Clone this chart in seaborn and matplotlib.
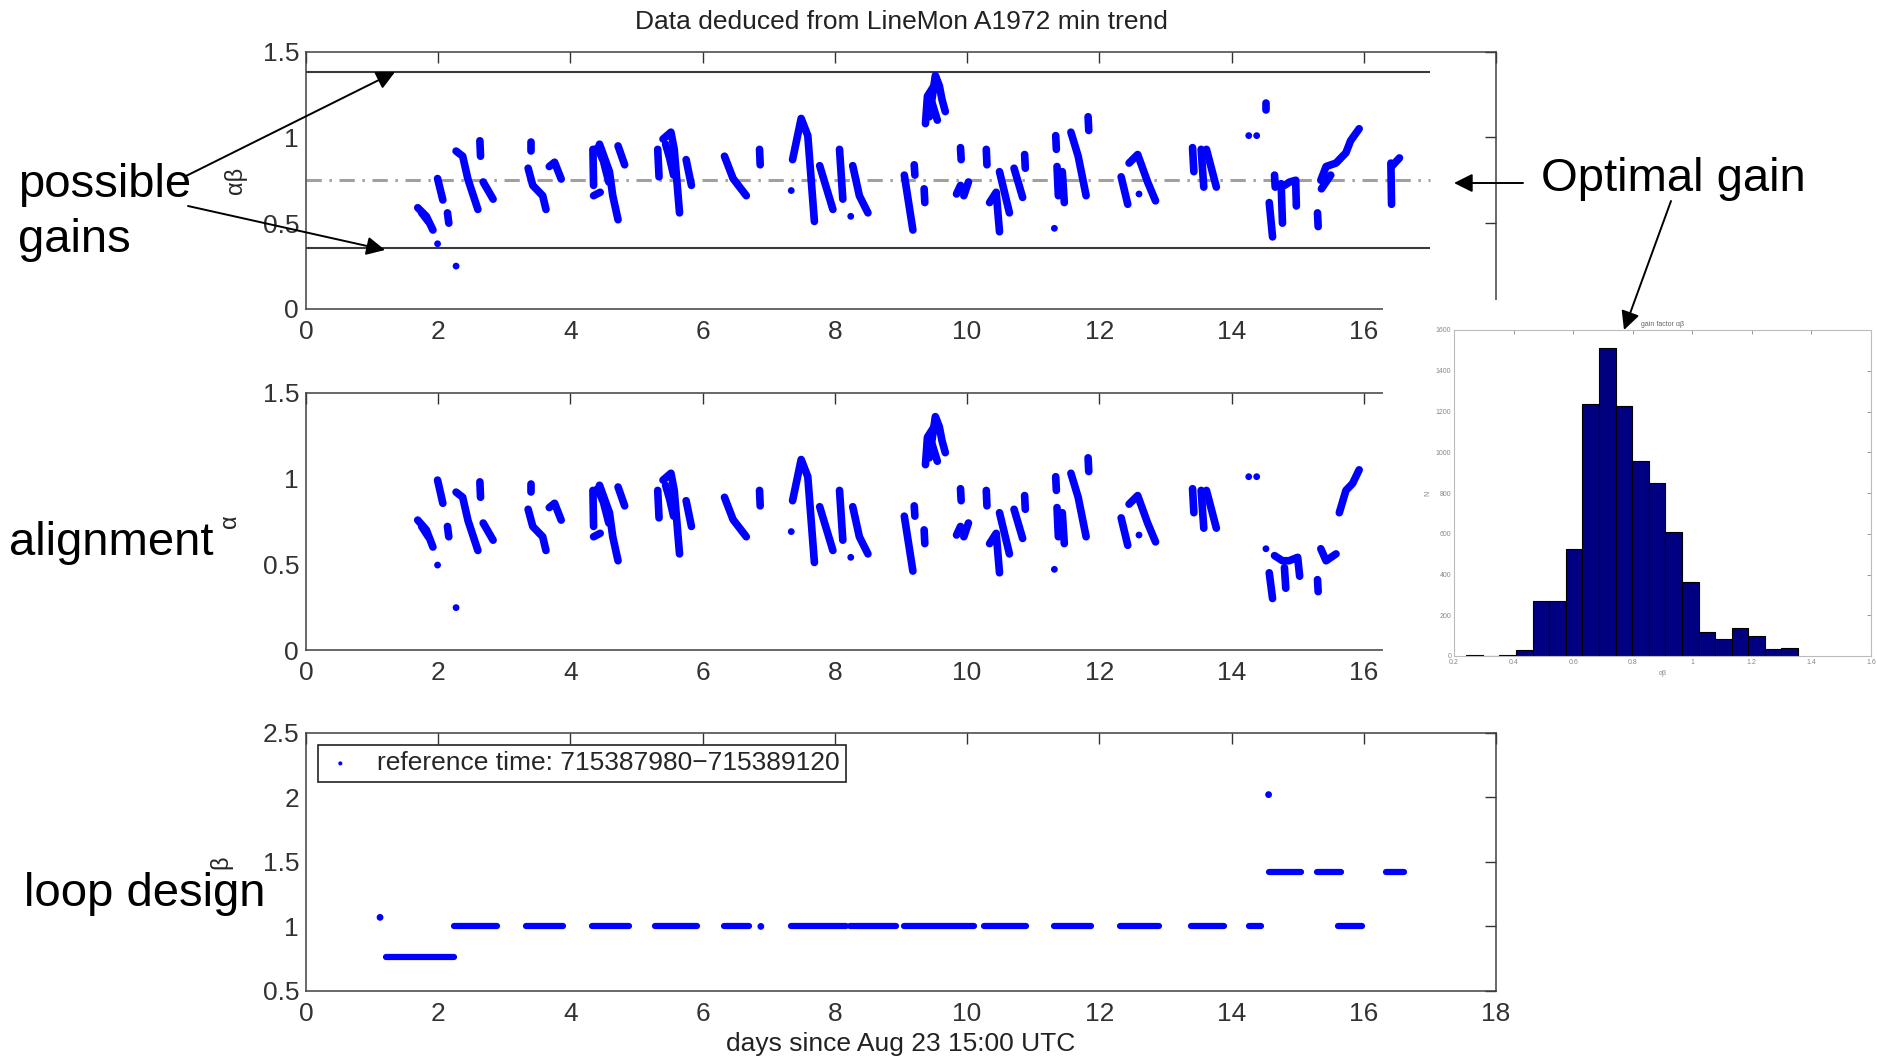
import pandas as pd
import matplotlib
matplotlib.use('Agg')
import matplotlib.pyplot as plt
import seaborn as sns
from matplotlib.ticker import FuncFormatter

sns.set_style('white')
plt.rcParams['font.family'] = ['Liberation Sans', 'DejaVu Sans']

# ---- data ----
# streaks of points (days, value) that are the same in the alpha and alpha*beta panels
shared_streaks = [
    ([2.27, 2.37, 2.45, 2.60], [0.92, 0.89, 0.755, 0.58]),
    ([2.63, 2.64], [0.98, 0.89]),
    ([2.68, 2.83], [0.74, 0.64]),
    ([3.41, 3.41], [0.97, 0.92]),
    ([3.36, 3.43, 3.58, 3.63], [0.82, 0.72, 0.66, 0.58]),
    ([3.68, 3.76, 3.86], [0.83, 0.855, 0.757]),
    ([4.34, 4.35], [0.93, 0.72]),
    ([4.44, 4.59, 4.64, 4.72], [0.96, 0.80, 0.66, 0.52]),
    ([4.41, 4.50, 4.58], [0.94, 0.86, 0.74]),
    ([4.72, 4.82], [0.95, 0.84]),
    ([4.35, 4.45], [0.66, 0.68]),
    ([5.32, 5.34], [0.93, 0.77]),
    ([5.40, 5.52, 5.57, 5.65], [0.99, 1.03, 0.93, 0.56]),
    ([5.44, 5.50, 5.56], [0.96, 0.88, 0.78]),
    ([5.75, 5.83], [0.87, 0.72]),
    ([6.33, 6.46, 6.66], [0.89, 0.76, 0.66]),
    ([6.86, 6.87], [0.93, 0.84]),
    ([7.36, 7.49, 7.59, 7.69], [0.87, 1.11, 1.01, 0.51]),
    ([7.77, 7.97], [0.835, 0.58]),
    ([8.07, 8.12], [0.93, 0.64]),
    ([8.27, 8.37, 8.50], [0.835, 0.66, 0.56]),
    ([9.05, 9.18], [0.78, 0.46]),
    ([9.20, 9.21], [0.84, 0.78]),
    ([9.35, 9.36], [0.70, 0.62]),
    ([9.37, 9.40, 9.50], [1.08, 1.24, 1.30]),
    ([9.43, 9.52, 9.58, 9.62, 9.67], [1.12, 1.36, 1.30, 1.22, 1.15]),
    ([9.47, 9.55], [1.20, 1.10]),
    ([9.90, 9.91], [0.94, 0.87]),
    ([9.84, 9.90], [0.67, 0.72]),
    ([9.95, 10.02], [0.66, 0.74]),
    ([10.29, 10.30], [0.93, 0.84]),
    ([10.34, 10.44, 10.49], [0.62, 0.68, 0.45]),
    ([10.49, 10.64], [0.80, 0.56]),
    ([10.71, 10.84], [0.82, 0.65]),
    ([10.87, 10.88], [0.90, 0.82]),
    ([11.34, 11.35], [1.01, 0.93]),
    ([11.36, 11.38], [0.83, 0.66]),
    ([11.44, 11.47], [0.80, 0.62]),
    ([11.57, 11.68, 11.80], [1.03, 0.89, 0.66]),
    ([11.83, 11.84], [1.12, 1.04]),
    ([12.33, 12.43], [0.77, 0.61]),
    ([12.45, 12.58, 12.73, 12.85], [0.85, 0.90, 0.74, 0.63]),
    ([13.41, 13.43], [0.94, 0.80]),
    ([13.54, 13.58], [0.93, 0.71]),
    ([13.62, 13.77], [0.93, 0.71]),
]
shared_dot_days = [7.34, 8.24, 11.32, 12.60, 14.26, 14.38]
shared_dot_vals = [0.69, 0.54, 0.47, 0.67, 1.01, 1.01]

# alpha*beta only
ab_streaks = [
    ([1.69, 1.82, 1.92], [0.59, 0.54, 0.46]),
    ([1.75, 1.85], [0.56, 0.51]),
    ([1.99, 2.07], [0.76, 0.635]),
    ([2.14, 2.16], [0.56, 0.50]),
    ([14.52, 14.52], [1.16, 1.20]),
    ([14.65, 14.66], [0.78, 0.71]),
    ([14.57, 14.62], [0.62, 0.42]),
    ([14.75, 14.77], [0.73, 0.50]),
    ([14.80, 14.88, 14.97, 14.98], [0.72, 0.74, 0.75, 0.60]),
    ([15.30, 15.31], [0.56, 0.48]),
    ([15.35, 15.43, 15.58, 15.73, 15.80, 15.93], [0.75, 0.83, 0.85, 0.91, 0.98, 1.05]),
    ([15.36, 15.50], [0.70, 0.78]),
    ([16.41, 16.42], [0.85, 0.61]),
    ([16.42, 16.54], [0.83, 0.88]),
]
ab_dot_days = [1.99, 2.27]
ab_dot_vals = [0.38, 0.25]

# alpha only
a_streaks = [
    ([1.69, 1.82, 1.92], [0.757, 0.70, 0.60]),
    ([1.75, 1.85], [0.72, 0.66]),
    ([1.99, 2.07], [0.99, 0.855]),
    ([2.14, 2.16], [0.72, 0.66]),
    ([14.57, 14.62], [0.45, 0.30]),
    ([14.65, 14.77, 14.87, 15.00, 15.03], [0.55, 0.52, 0.52, 0.54, 0.43]),
    ([14.80, 14.82], [0.48, 0.36]),
    ([15.30, 15.31], [0.41, 0.34]),
    ([15.35, 15.43, 15.58], [0.59, 0.52, 0.56]),
    ([15.63, 15.73, 15.83, 15.93], [0.80, 0.93, 0.97, 1.05]),
]
a_dot_days = [1.99, 2.27, 14.52]
a_dot_vals = [0.495, 0.247, 0.59]

# beta (loop design) runs: start day, end day, level
beta_start = [1.21, 2.24, 3.33, 4.32, 5.28, 6.33, 7.33, 8.23, 9.05, 10.26, 11.31,
              12.31, 13.39, 14.26, 15.61, 14.56, 15.29, 16.34]
beta_end = [2.24, 2.89, 3.89, 4.88, 5.91, 6.70, 8.17, 8.92, 10.10, 10.89, 11.88,
            12.90, 13.88, 14.44, 15.97, 15.05, 15.65, 16.61]
beta_level = [0.76, 1, 1, 1, 1, 1, 1, 1, 1, 1, 1, 1, 1, 1, 1, 1.42, 1.42, 1.42]
beta_dot_days = [1.12, 6.88, 14.56]
beta_dot_vals = [1.07, 1.0, 2.02]

gain_bounds = [1.378, 0.354]
optimal_gain = 0.751

# histogram of alpha*beta (inset)
hist_edges = [0.241, 0.297, 0.352, 0.408, 0.464, 0.520, 0.575, 0.631, 0.687, 0.743, 0.798,
              0.854, 0.910, 0.965, 1.021, 1.077, 1.132, 1.188, 1.244, 1.299, 1.355]
hist_counts = [4, 2, 4, 30, 270, 270, 523, 1236, 1511, 1225, 957, 848, 610, 361, 118,
               85, 139, 97, 33, 39]

BLUE = '#0000ff'
W, H = 1877, 1059


def px_rect(l, t, r, b):
    return [l / W, 1 - b / H, (r - l) / W, (b - t) / H]


def streak_frame(streaks):
    rows = []
    for i, (xs, ys) in enumerate(streaks):
        for x, y in zip(xs, ys):
            rows.append((i, x, y))
    return pd.DataFrame(rows, columns=['streak', 'day', 'val'])


def draw_streaks(ax, streaks, dot_x, dot_y):
    df = streak_frame(streaks)
    sns.lineplot(data=df, x='day', y='val', units='streak', estimator=None, sort=False,
                 color=BLUE, lw=5.5, solid_capstyle='round', solid_joinstyle='round',
                 legend=False, ax=ax)
    sns.scatterplot(x=dot_x, y=dot_y, color=BLUE, s=24, edgecolor='none', ax=ax)


def style_axes(ax, ylim, yticks):
    ax.set_xlim(0, 18)
    ax.set_ylim(*ylim)
    ax.set_xticks(range(0, 19, 2))
    ax.set_yticks(yticks)
    ax.yaxis.set_major_formatter(FuncFormatter(lambda v, p: '%g' % v))
    ax.tick_params(axis='both', direction='in', top=True, right=True, length=8,
                   width=1, colors='#333333', labelsize=19)
    ax.tick_params(axis='x', pad=8)
    ax.tick_params(axis='y', pad=5)
    for s in ax.spines.values():
        s.set_color('#404040')
        s.set_linewidth(1.1)
    ax.set_xlabel('')


fig = plt.figure(figsize=(W / 100, H / 100), dpi=100)

ax_ab = fig.add_axes(px_rect(306, 51.5, 1496, 309))
ax_a = fig.add_axes(px_rect(306, 392.6, 1496, 650))
ax_b = fig.add_axes(px_rect(306, 732.6, 1496, 991))

# alpha*beta panel
ax_ab.hlines(gain_bounds, 0, 17, colors='#3a3a3a', lw=1.5)
ax_ab.hlines(optimal_gain, 0, 17, colors='#a0a0a0', lw=2.2, linestyles=(0, (5, 2.5, 0.8, 2.5)))
draw_streaks(ax_ab, shared_streaks + ab_streaks, shared_dot_days + ab_dot_days,
             shared_dot_vals + ab_dot_vals)
style_axes(ax_ab, (0, 1.5), [0, 0.5, 1, 1.5])
ax_ab.set_ylabel('αβ', fontsize=17)
ax_ab.yaxis.set_label_coords(-0.05, 0.5)
ax_ab.set_title('Data deduced from LineMon A1972 min trend', fontsize=19, pad=16, color='#222222')

# alpha panel
draw_streaks(ax_a, shared_streaks + a_streaks, shared_dot_days + a_dot_days,
             shared_dot_vals + a_dot_vals)
style_axes(ax_a, (0, 1.5), [0, 0.5, 1, 1.5])
ax_a.set_ylabel('α', fontsize=17)
ax_a.yaxis.set_label_coords(-0.055, 0.5)

# beta panel
brows = []
for i, (s, e, lv) in enumerate(zip(beta_start, beta_end, beta_level)):
    brows.append((i, s, lv))
    brows.append((i, e, lv))
bdf = pd.DataFrame(brows, columns=['run', 'day', 'beta'])
sns.lineplot(data=bdf, x='day', y='beta', units='run', estimator=None, sort=False,
             color=BLUE, lw=4.5, legend=False, ax=ax_b)
sns.scatterplot(x=beta_dot_days, y=beta_dot_vals, color=BLUE, s=24, edgecolor='none',
                label='reference time: 715387980\u2212715389120', ax=ax_b)
style_axes(ax_b, (0.5, 2.5), [0.5, 1, 1.5, 2, 2.5])
ax_b.set_ylabel('β', fontsize=17)
ax_b.yaxis.set_label_coords(-0.062, 0.5)
ax_b.set_xlabel('days since Aug 23 15:00 UTC', fontsize=19, labelpad=4, color='#222222')
leg = ax_b.legend(loc='upper left', bbox_to_anchor=(0.01, 0.953), borderaxespad=0,
                  fontsize=19, frameon=True, fancybox=False, framealpha=1,
                  edgecolor='#222222', markerscale=0.6, handlelength=1.2,
                  handletextpad=0.8, borderpad=0.25)
leg.get_frame().set_linewidth(1.2)

# white backdrop for the inset
bg = fig.add_axes(px_rect(1383, 300, 1877, 700))
bg.set_xticks([])
bg.set_yticks([])
bg.set_facecolor('white')
for s in bg.spines.values():
    s.set_visible(False)

# inset histogram
ax_h = fig.add_axes(px_rect(1454, 330, 1871, 656))
hist_centers = [(a + b) / 2 for a, b in zip(hist_edges[:-1], hist_edges[1:])]
sns.histplot(x=hist_centers, weights=hist_counts, bins=hist_edges, color='#000080',
             edgecolor='black', linewidth=0.8, alpha=1, ax=ax_h)
ax_h.set_xlim(0.2, 1.6)
ax_h.set_ylim(0, 1600)
ax_h.set_xticks([0.2, 0.4, 0.6, 0.8, 1.0, 1.2, 1.4, 1.6])
ax_h.set_yticks(range(0, 1601, 200))
ax_h.xaxis.set_major_formatter(FuncFormatter(lambda v, p: '%g' % v))
ax_h.tick_params(direction='in', top=True, right=True, length=3, width=0.6,
                 colors='#888888', labelsize=5, pad=2)
for s in ax_h.spines.values():
    s.set_color('#bbbbbb')
    s.set_linewidth(0.8)
ax_h.set_xlabel('αβ', fontsize=5, color='#888888', labelpad=3)
ax_h.set_ylabel('N', fontsize=5, color='#888888', labelpad=3)
ax_h.set_title('gain factor αβ', fontsize=5, color='#666666', pad=3)

# annotations on top of everything
ov = fig.add_axes([0, 0, 1, 1], zorder=10)
ov.set_xlim(0, W)
ov.set_ylim(H, 0)
ov.axis('off')
big = dict(fontsize=34, color='black', va='baseline', ha='left', family=['Liberation Sans', 'DejaVu Sans'])
ov.text(18, 197, 'possible', **big)
ov.text(18, 252, 'gains', **big)
ov.text(9, 555, 'alignment', **big)
ov.text(24, 906, 'loop design', **big)
ov.text(1541, 191, 'Optimal gain', **big)
arrow = dict(arrowstyle='-|>', mutation_scale=28, lw=1.4, color='black', shrinkA=0, shrinkB=0)
for (x0, y0), (x1, y1) in [((186, 176), (395, 72)), ((188, 206), (385, 250)),
                           ((1523, 183), (1454, 183)), ((1671, 201), (1624, 330))]:
    ov.annotate('', xy=(x1, y1), xytext=(x0, y0), arrowprops=arrow)

fig.savefig('out.png', dpi=100, facecolor='white')
